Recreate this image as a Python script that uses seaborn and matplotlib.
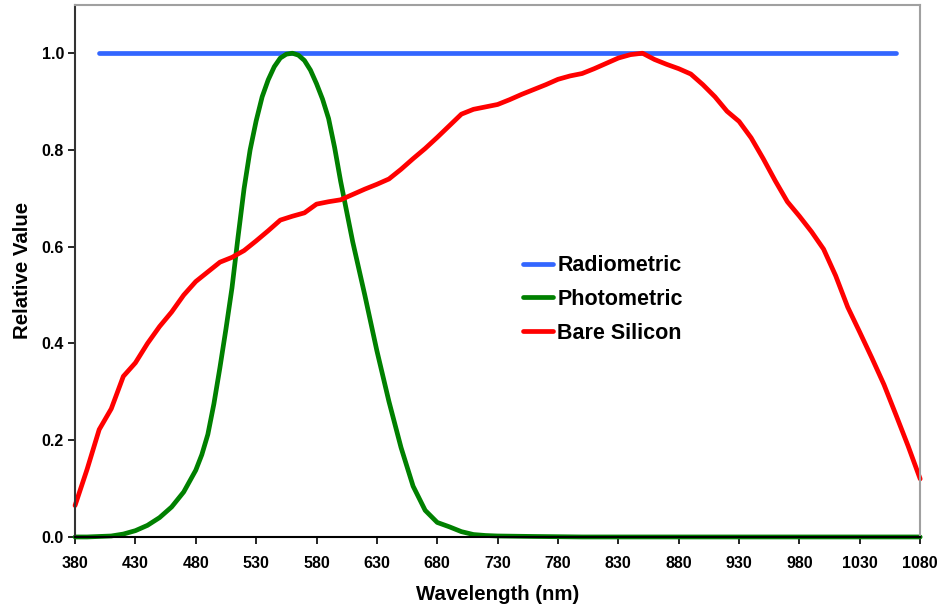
import numpy as np
import pandas as pd
import matplotlib
matplotlib.use('Agg')
import matplotlib.pyplot as plt
import seaborn as sns

# data
radiometric_wl = [400, 1060]
radiometric_val = [1.0, 1.0]

photometric_wl = [380, 390, 400, 410, 420, 430, 440, 450, 460, 470, 480, 485, 490, 495,
                  500, 505, 510, 515, 520, 525, 530, 535, 540, 545, 550, 555, 560, 565,
                  570, 575, 580, 585, 590, 595, 600, 610, 620, 630, 640, 650, 660, 670,
                  680, 690, 700, 710, 720, 730, 760, 800, 850, 900, 950, 1000, 1080]
photometric_val = [0.0, 0.0, 0.001, 0.002, 0.006, 0.013, 0.024, 0.04, 0.062, 0.093, 0.138, 0.17, 0.212, 0.275,
                   0.35, 0.43, 0.515, 0.62, 0.72, 0.80, 0.86, 0.91, 0.945, 0.972, 0.99, 0.998, 1.0, 0.996,
                   0.985, 0.965, 0.937, 0.905, 0.865, 0.805, 0.735, 0.61, 0.5, 0.385, 0.28, 0.185, 0.105, 0.055,
                   0.03, 0.021, 0.011, 0.005, 0.003, 0.002, 0.001, 0.0, 0.0, 0.0, 0.0, 0.0, 0.0]

silicon_wl = list(range(380, 1081, 10))
silicon_val = [0.065, 0.14, 0.222, 0.265, 0.332, 0.36, 0.40, 0.435, 0.465, 0.50,
               0.528, 0.548, 0.568, 0.578, 0.592, 0.612, 0.633, 0.655, 0.663, 0.670,
               0.688, 0.693, 0.697, 0.708, 0.719, 0.729, 0.74, 0.76, 0.782, 0.803,
               0.826, 0.85, 0.874, 0.884, 0.889, 0.894, 0.904, 0.915, 0.925, 0.935,
               0.946, 0.953, 0.958, 0.968, 0.979, 0.99, 0.997, 1.0, 0.987, 0.977,
               0.968, 0.957, 0.935, 0.91, 0.88, 0.859, 0.825, 0.782, 0.736, 0.693,
               0.663, 0.631, 0.595, 0.54, 0.475, 0.423, 0.37, 0.315, 0.252, 0.188,
               0.12]

series_names = ['Radiometric', 'Photometric', 'Bare Silicon']
colors = ['#3366FF', '#008000', '#FF0000']

df = pd.concat([
    pd.DataFrame({'wl': radiometric_wl, 'val': radiometric_val, 'Series': 'Radiometric'}),
    pd.DataFrame({'wl': photometric_wl, 'val': photometric_val, 'Series': 'Photometric'}),
    pd.DataFrame({'wl': silicon_wl, 'val': silicon_val, 'Series': 'Bare Silicon'}),
])

sns.set_style('white')
plt.rcParams['font.family'] = ['Liberation Sans', 'DejaVu Sans']
plt.rcParams['font.weight'] = 'bold'
plt.rcParams['text.color'] = 'black'
plt.rcParams['axes.labelcolor'] = 'black'
plt.rcParams['xtick.color'] = 'black'
plt.rcParams['ytick.color'] = 'black'

fig = plt.figure(figsize=(9.38, 6.04), dpi=100)
ax = fig.add_axes([0.080, 0.111, 0.901, 0.881])

sns.lineplot(data=df, x='wl', y='val', hue='Series', hue_order=series_names,
             palette=colors, linewidth=3.4, ax=ax, sort=False, estimator=None)
for line in ax.get_lines():
    line.set_solid_capstyle('round')
    line.set_clip_on(False)

ax.set_xlim(380, 1080)
ax.set_ylim(0, 1.1)
ax.set_xticks(np.arange(380, 1081, 50))
ax.set_yticks(np.arange(0, 1.01, 0.2))
ax.set_yticklabels([f'{v:.1f}' for v in np.arange(0, 1.01, 0.2)])
ax.tick_params(axis='both', direction='out', length=5, width=1.2, color='black',
               labelsize=11.5, left=True, bottom=True)
ax.tick_params(axis='x', pad=9)
ax.tick_params(axis='y', pad=3)
for lbl in ax.get_xticklabels() + ax.get_yticklabels():
    lbl.set_fontweight('bold')

ax.set_xlabel('Wavelength (nm)', fontsize=14.7, fontweight='bold', labelpad=10)
ax.set_ylabel('Relative Value', fontsize=14.7, fontweight='bold', labelpad=7)

ax.spines['left'].set_color('#333333')
ax.spines['bottom'].set_color('black')
ax.spines['top'].set_color('#a0a0a0')
ax.spines['right'].set_color('#a0a0a0')
for s in ax.spines.values():
    s.set_linewidth(1.5)

leg = ax.legend(loc='upper left', bbox_to_anchor=(0.507, 0.566), frameon=False,
                fontsize=15.5, handlelength=1.4, handletextpad=0.19, labelspacing=0.59)
for t in leg.get_texts():
    t.set_fontweight('bold')
for h in leg.legend_handles:
    h.set_linewidth(3.4)
    h.set_solid_capstyle('round')

fig.savefig('out.png', dpi=100)
